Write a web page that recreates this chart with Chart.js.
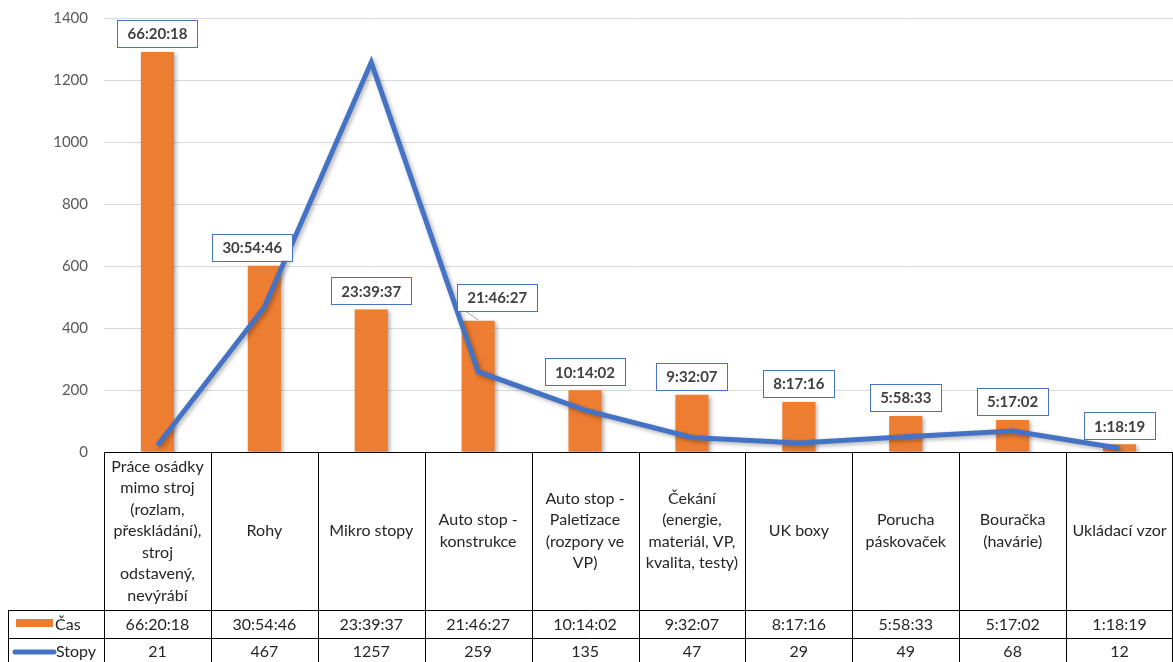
<!DOCTYPE html>
<html lang="cs">
<head>
<meta charset="UTF-8">
<title>Čas a stopy</title>
<script src="https://cdn.jsdelivr.net/npm/chart.js@4"></script>
<style>
  body { margin: 0; background: #fff; }
  #wrap { width: 1173px; height: 662px; }
</style>
</head>
<body>
<div id="wrap"><canvas id="chart" width="1173" height="662"></canvas></div>
<script>
// ---------- data ----------
const categories = [
  ['Práce osádky', 'mimo stroj', '(rozlam,', 'přeskládání),', 'stroj', 'odstavený,', 'nevýrábí'],
  ['Rohy'],
  ['Mikro stopy'],
  ['Auto stop -', 'konstrukce'],
  ['Auto stop -', 'Paletizace', '(rozpory ve', 'VP)'],
  ['Čekání', '(energie,', 'materiál, VP,', 'kvalita, testy)'],
  ['UK boxy'],
  ['Porucha', 'páskovaček'],
  ['Bouračka', '(havárie)'],
  ['Ukládací vzor']
];
const casLabels = ['66:20:18', '30:54:46', '23:39:37', '21:46:27', '10:14:02', '9:32:07', '8:17:16', '5:58:33', '5:17:02', '1:18:19'];
const casValues = [1290, 601, 460, 423, 199, 185, 161, 116, 103, 25];
const stopyValues = [21, 467, 1257, 259, 135, 47, 29, 49, 68, 12];
const yMin = 0, yMax = 1400, yStep = 200;

// ---------- style ----------
const ORANGE = '#ED7D31';
const BLUE = '#4472C4';
const FONT = 'Lato, "Liberation Sans", sans-serif';
const labelShift = { 1: -12, 3: 19 };   // px nudge of a few bar labels
const labelGap = { 3: 10 };

// soft shadow under bars and line
const shadowPlugin = {
  id: 'shadow',
  beforeDatasetDraw(chart) {
    const ctx = chart.ctx;
    ctx.save();
    ctx.shadowColor = 'rgba(0,0,0,0.3)';
    ctx.shadowBlur = 4;
    ctx.shadowOffsetX = 2;
    ctx.shadowOffsetY = 2;
  },
  afterDatasetDraw(chart) {
    chart.ctx.restore();
  }
};

// boxed labels over the bars
const barLabelPlugin = {
  id: 'barLabels',
  afterDatasetsDraw(chart) {
    const ctx = chart.ctx;
    const meta = chart.getDatasetMeta(0);
    ctx.save();
    ctx.font = 'bold 15px ' + FONT;
    ctx.textAlign = 'center';
    ctx.textBaseline = 'middle';
    meta.data.forEach((bar, i) => {
      const txt = casLabels[i];
      const w = ctx.measureText(txt).width + 20;
      const h = 27;
      const cx = bar.x + (labelShift[i] || 0);
      const bottom = bar.y - (labelGap[i] || 5);
      if (labelShift[i] && labelGap[i]) {
        ctx.strokeStyle = '#a6a6a6';
        ctx.lineWidth = 1;
        ctx.beginPath();
        ctx.moveTo(bar.x, bar.y - 1);
        ctx.lineTo(cx - w / 2 + 8, bottom);
        ctx.stroke();
      }
      ctx.fillStyle = '#fff';
      ctx.fillRect(cx - w / 2, bottom - h, w, h);
      ctx.strokeStyle = BLUE;
      ctx.lineWidth = 1;
      ctx.strokeRect(Math.round(cx - w / 2) + 0.5, Math.round(bottom - h) + 0.5, Math.round(w), h);
      ctx.fillStyle = '#404040';
      ctx.fillText(txt, cx, bottom - h / 2 + 1);
    });
    ctx.restore();
  }
};

// data table under the plot
const tablePlugin = {
  id: 'dataTable',
  afterDraw(chart) {
    const ctx = chart.ctx;
    const area = chart.chartArea;
    const n = categories.length;
    const colW = (area.right - area.left) / n;
    const top = area.bottom, r1 = 610, r2 = 638, bottom = 666, legX = 8;
    const px = v => Math.round(v) + 0.5;

    ctx.save();
    ctx.strokeStyle = '#000';
    ctx.lineWidth = 1;
    ctx.beginPath();
    ctx.moveTo(area.left, px(top)); ctx.lineTo(area.right, px(top));
    ctx.moveTo(legX, px(r1)); ctx.lineTo(area.right, px(r1));
    ctx.moveTo(legX, px(r2)); ctx.lineTo(area.right, px(r2));
    ctx.moveTo(px(legX), r1); ctx.lineTo(px(legX), bottom);
    for (let i = 0; i <= n; i++) {
      const x = Math.min(px(area.left + i * colW), area.right - 0.5);
      ctx.moveTo(x, top); ctx.lineTo(x, bottom);
    }
    ctx.stroke();

    ctx.fillStyle = '#262626';
    ctx.font = '16px ' + FONT;
    ctx.textAlign = 'center';
    ctx.textBaseline = 'middle';
    const lh = 21.5;
    const midCat = (top + r1) / 2;
    categories.forEach((lines, i) => {
      const cx = chart.scales.x.getPixelForValue(i);
      const y0 = midCat - (lines.length - 1) * lh / 2;
      lines.forEach((ln, k) => ctx.fillText(ln, cx, y0 + k * lh));
      ctx.fillText(casLabels[i], cx, (r1 + r2) / 2 + 1);
      ctx.fillText(String(stopyValues[i]), cx, (r2 + bottom) / 2);
    });

    // legend keys
    ctx.textAlign = 'left';
    ctx.fillStyle = ORANGE;
    ctx.fillRect(16, 619, 37, 8);
    ctx.fillStyle = '#262626';
    ctx.fillText('Čas', 55, (r1 + r2) / 2 + 1);
    ctx.strokeStyle = BLUE;
    ctx.lineWidth = 5;
    ctx.lineCap = 'round';
    ctx.beginPath();
    ctx.moveTo(15, 652); ctx.lineTo(54, 652);
    ctx.stroke();
    ctx.fillText('Stopy', 56, (r2 + bottom) / 2);
    ctx.restore();
  }
};

new Chart(document.getElementById('chart'), {
  type: 'bar',
  data: {
    labels: categories,
    datasets: [
      {
        label: 'Čas',
        data: casValues,
        backgroundColor: ORANGE,
        barPercentage: 0.31,
        categoryPercentage: 1,
        order: 1
      },
      {
        type: 'line',
        label: 'Stopy',
        data: stopyValues,
        borderColor: BLUE,
        borderWidth: 5,
        pointRadius: 0,
        tension: 0,
        fill: false,
        order: 0
      }
    ]
  },
  options: {
    responsive: false,
    animation: false,
    layout: { padding: { top: 18, right: 0, bottom: 210, left: 0 } },
    plugins: {
      legend: { display: false },
      tooltip: { enabled: false }
    },
    scales: {
      x: { display: false, offset: true },
      y: {
        min: yMin,
        max: yMax,
        ticks: {
          stepSize: yStep, padding: 4, color: '#595959',
          font: { family: FONT, size: 15 },
          callback: v => String(v)
        },
        grid: { color: '#d9d9d9', drawTicks: true, tickLength: 12, tickColor: 'rgba(0,0,0,0)' },
        border: { display: false },
        afterFit(scale) { scale.width = 104; }
      }
    }
  },
  plugins: [shadowPlugin, barLabelPlugin, tablePlugin]
});
</script>
</body>
</html>
